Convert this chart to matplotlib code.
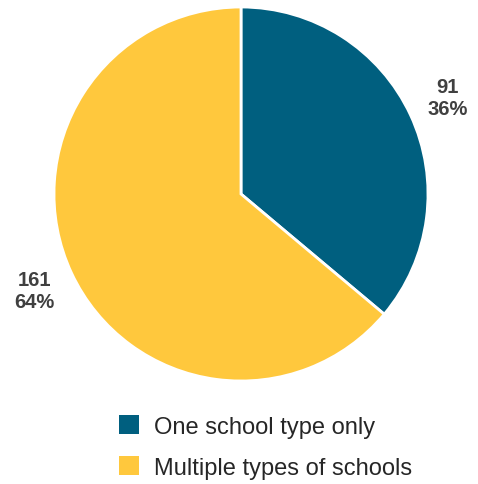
import matplotlib.pyplot as plt
from matplotlib.patches import Patch

plt.rcParams['font.family'] = ['Liberation Sans', 'DejaVu Sans']

# Datos
categorias = ["One school type only", "Multiple types of schools"]
valores = [91, 161]
colores = ["#005F7F", "#FFC83D"]

total = sum(valores)
etiquetas = [f"{v}\n{round(v / total * 100)}%" for v in valores]

fig = plt.figure(figsize=(4.78, 4.85), dpi=100)
ax = fig.add_axes([54 / 478, 1 - 382 / 485, 374 / 478, 374 / 485])

wedges, texts = ax.pie(valores, colors=colores, startangle=90, counterclock=False,
                       labels=etiquetas, labeldistance=1.22,
                       wedgeprops=dict(edgecolor="white", linewidth=2),
                       textprops=dict(fontsize=14.5, fontweight="bold", color="#404040",
                                      ha="center", va="center", linespacing=1.15))
ax.set_xlim(-1, 1)
ax.set_ylim(-1, 1)
ax.set_aspect("equal")

handles = [Patch(facecolor=c, edgecolor="none") for c in colores]
fig.legend(handles, categorias, loc="center", bbox_to_anchor=(0.555, 0.076),
           frameon=False, fontsize=17, handlelength=0.85, handleheight=0.85,
           handletextpad=0.65, labelspacing=0.77, labelcolor="#262626")

fig.savefig("out.png", dpi=100)
